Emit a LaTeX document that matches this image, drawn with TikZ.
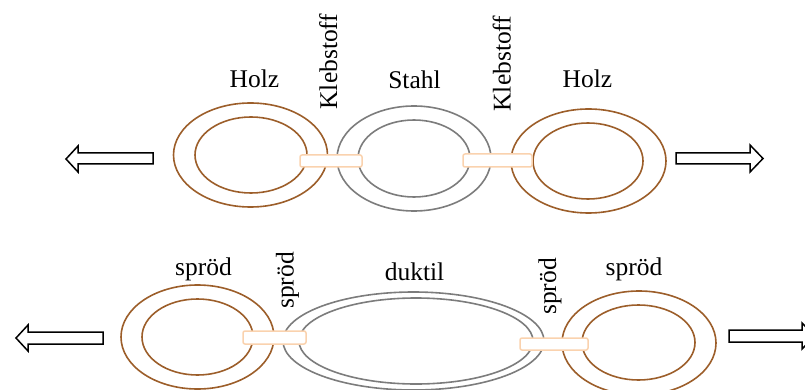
\documentclass[tikz,border=0pt]{standalone}
\usepackage{fontspec}
\setmainfont{Liberation Serif}
\definecolor{wood}{HTML}{9C5E2A}
\definecolor{steel}{HTML}{7C7C7C}
\definecolor{glue}{HTML}{FAD2AE}
\tikzset{
  woodring/.style={draw=wood, line width=1.6pt},
  steelring/.style={draw=steel, line width=1.6pt},
  gluebar/.style={draw=glue, fill=white, line width=1.5pt, rounded corners=2pt},
  pullarrow/.style={draw=black, fill=white, line width=1.5pt, line join=miter},
  lbl/.style={font=\fontsize{25.5}{30}\selectfont, inner sep=0pt, anchor=base},
  vlbl/.style={lbl, rotate=90}
}
\begin{document}
\begin{tikzpicture}[x=1pt, y=-1pt]
\useasboundingbox (0,0) rectangle (805,390);

% ---------- upper chain: wood - adhesive - steel - adhesive - wood ----------
\draw[woodring] (250.5,155) ellipse [x radius=77pt, y radius=52pt];
\draw[woodring] (251,155) ellipse [x radius=56pt, y radius=38pt];
\draw[steelring] (414,158.5) ellipse [x radius=77pt, y radius=52.5pt];
\draw[steelring] (414,158.5) ellipse [x radius=56pt, y radius=38.5pt];
\draw[woodring] (588.5,161) ellipse [x radius=77.5pt, y radius=52pt];
\draw[woodring] (588,161) ellipse [x radius=55pt, y radius=38pt];
\draw[gluebar] (300,155) rectangle (362,167);
\draw[gluebar] (463,154) rectangle (532,167);

\node[lbl] (h1) at (254.5,88) {Holz};
\node[lbl] (st) at (414.5,89) {Stahl};
\node[lbl] (h2) at (587.5,88) {Holz};
\node[vlbl] (k1) at (337,61.5) {Klebstoff};
\node[vlbl] (k2) at (510.5,63.5) {Klebstoff};

% pulling forces, upper chain
\draw[pullarrow] (66,159) -- (78,146) -- (78,153) -- (153,153) -- (153,164)
  -- (78,164) -- (78,172) -- cycle;
\draw[pullarrow] (763,158.5) -- (750,145) -- (750,153) -- (676,153) -- (676,164)
  -- (750,164) -- (750,172) -- cycle;

% ---------- lower chain: brittle - brittle - ductile - brittle - brittle ----------
\draw[woodring] (197.5,337) ellipse [x radius=76.5pt, y radius=52pt];
\draw[woodring] (197.5,337) ellipse [x radius=55.5pt, y radius=38pt];
\draw[steelring] (413.5,341) ellipse [x radius=130.5pt, y radius=49pt];
\draw[steelring] (416,341) ellipse [x radius=117pt, y radius=43pt];
\draw[woodring] (639,343) ellipse [x radius=77pt, y radius=52pt];
\draw[woodring] (638.5,342.5) ellipse [x radius=56.5pt, y radius=37.5pt];
\draw[gluebar] (243,331) rectangle (306,344);
\draw[gluebar] (520,338) rectangle (588,350);

\node[lbl] (s1) at (203.5,275) {spröd};
\node[lbl] (du) at (414.5,280) {duktil};
\node[lbl] (s2) at (634,275) {spröd};
\node[vlbl] (v1) at (293.5,280.5) {spröd};
\node[vlbl] (v2) at (556,286.5) {spröd};

% pulling forces, lower chain
\draw[pullarrow] (16,338) -- (28,325) -- (28,332) -- (103,332) -- (103,344)
  -- (28,344) -- (28,351) -- cycle;
\draw[pullarrow] (815,336) -- (802,323) -- (802,330) -- (729,330) -- (729,342)
  -- (802,342) -- (802,349) -- cycle;
\end{tikzpicture}
\end{document}
